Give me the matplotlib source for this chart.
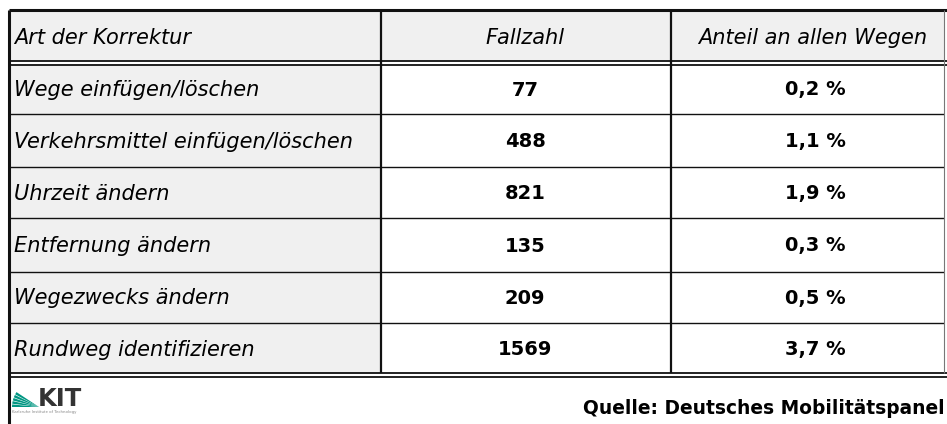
import matplotlib
matplotlib.use("Agg")
import matplotlib.pyplot as plt
from matplotlib.patches import Rectangle, Polygon
import numpy as np

# ---- data ----
header = ["Art der Korrektur", "Fallzahl", "Anteil an allen Wegen"]
categories = ["Wege einfügen/löschen", "Verkehrsmittel einfügen/löschen",
              "Uhrzeit ändern", "Entfernung ändern", "Wegezwecks ändern",
              "Rundweg identifizieren"]
fallzahl = [77, 488, 821, 135, 209, 1569]
anteil = [0.2, 1.1, 1.9, 0.3, 0.5, 3.7]
source = "Quelle: Deutsches Mobilitätspanel"

W, H = 947, 424
fig = plt.figure(figsize=(W / 100, H / 100), dpi=100)
ax = fig.add_axes([0, 0, 1, 1])
ax.set_xlim(0, W)
ax.set_ylim(H, 0)
ax.axis("off")

FONT = "DejaVu Sans"
grey = "#f0f0f0"
lc = "#111111"

x_left, x_c1, x_c2, x_right = 9, 381, 671, 944
y_top = 10
y_head = 62
row_edges = [64, 114, 167, 218, 272, 323, 374]

# backgrounds
ax.add_patch(Rectangle((x_left, y_top), x_right - x_left, y_head - y_top, color=grey, lw=0))
ax.add_patch(Rectangle((x_left, row_edges[0]), x_c1 - x_left, row_edges[-1] - row_edges[0], color=grey, lw=0))

# lines
ax.hlines(y_top, x_left, W, color=lc, lw=2.2)
ax.hlines([61, 64.5], x_left, W, color=lc, lw=1.3)
for y in row_edges[1:-1]:
    ax.hlines(y, x_left, x_right, color=lc, lw=1.0)
ax.hlines([372.5, 376.5], x_left, W, color=lc, lw=1.3)
ax.vlines(x_left, y_top, H, color=lc, lw=2.2)
ax.vlines([x_c1, x_c2], y_top, 372.5, color=lc, lw=1.6)
ax.vlines(x_right, y_top, 372.5, color="#777777", lw=0.8)

fs_it = 15
fs_b = 14
c2 = (x_c1 + x_c2) / 2 - 1
c3 = 813
# header
ax.text(14, 38, header[0], fontsize=fs_it, family=FONT, style="italic", va="center", ha="left")
ax.text(c2, 38, header[1], fontsize=fs_it, family=FONT, style="italic", va="center", ha="center")
ax.text(c3, 38, header[2], fontsize=fs_it, family=FONT, style="italic", va="center", ha="center")

for i, (cat, f, a) in enumerate(zip(categories, fallzahl, anteil)):
    yc = (row_edges[i] + row_edges[i + 1]) / 2
    ax.text(14, yc + 1, cat, fontsize=fs_it, family=FONT, style="italic", va="center", ha="left")
    ax.text(c2, yc + 1, str(f), fontsize=fs_b, family=FONT, weight="bold", va="center", ha="center")
    ax.text(c3 + 2, yc + 1, f"{a:.1f}".replace(".", ",") + " %", fontsize=fs_b,
            family=FONT, weight="bold", va="center", ha="center")

# source (runs up to the figure edge, as in the reference)
ax.text(945, 408, source, fontsize=13.4, family=FONT, weight="bold", va="center", ha="right")

# KIT logo
green = "#009682"
cx, cy = 39, 407
r = 27
for k in range(5):
    a0 = np.deg2rad(180 - k * 7)
    a1 = np.deg2rad(180 - k * 7 - 5.5)
    ax.add_patch(Polygon([(cx, cy), (cx + r * np.cos(a0), cy - r * np.sin(a0)),
                          (cx + r * np.cos(a1), cy - r * np.sin(a1))], closed=True, color=green, lw=0))
ax.text(38, 399.5, "KIT", fontsize=17.5, family=FONT, weight="bold",
        color="#333333", va="center", ha="left")
ax.text(12, 412, "Karlsruhe Institute of Technology", fontsize=2.8, family=FONT, color="#888888",
        va="center", ha="left")

fig.savefig("out.png", dpi=100)
